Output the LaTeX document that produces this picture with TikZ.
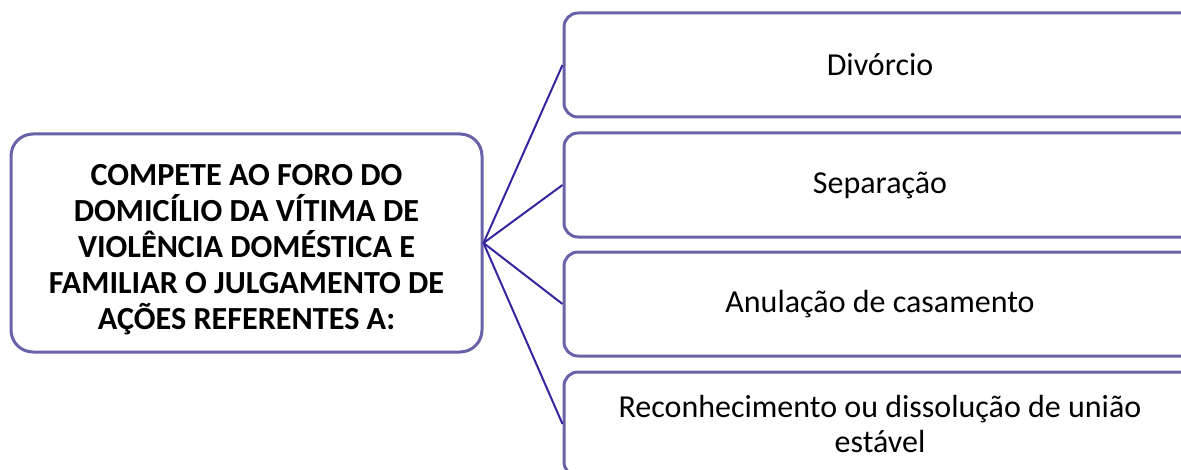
\documentclass[tikz,border=0pt]{standalone}
\usepackage{fontspec}
\setmainfont{Carlito}
\usepackage{tikz}
\definecolor{boxline}{RGB}{104,98,168}
\definecolor{linkline}{RGB}{52,38,158}

\begin{document}
\begin{tikzpicture}[x=0.5pt, y=-0.5pt, font=\fontsize{16}{17.8}\selectfont,
  hub/.style={draw=boxline, line width=1.5pt, rounded corners=11pt, fill=white, minimum width=235.5pt, minimum height=109pt},
  hubtext/.style={align=center, font=\fontsize{16.1}{18}\selectfont\bfseries},
  item/.style={draw=boxline, line width=1.5pt, rounded corners=7pt, fill=white, minimum width=316pt, minimum height=52pt, align=center},
  link/.style={draw=linkline, line width=1pt}]
\clip (0,0) rectangle (1181,470);
\node[hub] (F) at (246.5,243) {};
\node[hubtext] (Ft) at (246.5,250) {COMPETE AO FORO DO\\DOMICÍLIO DA VÍTIMA DE\\VIOLÊNCIA DOMÉSTICA E\\FAMILIAR O JULGAMENTO DE\\AÇÕES REFERENTES A:};
\node[item] (R1) at (880,65) {Divórcio};
\node[item] (R2) at (880,185) {Separação};
\node[item] (R3) at (880,304) {Anulação de casamento};
\node[item] (R4) at (880,424) {Reconhecimento ou dissolução de união\\estável};
\draw[link] (F.east) -- (R1.west);
\draw[link] (F.east) -- (R2.west);
\draw[link] (F.east) -- (R3.west);
\draw[link] (F.east) -- (R4.west);
\end{tikzpicture}
\end{document}
